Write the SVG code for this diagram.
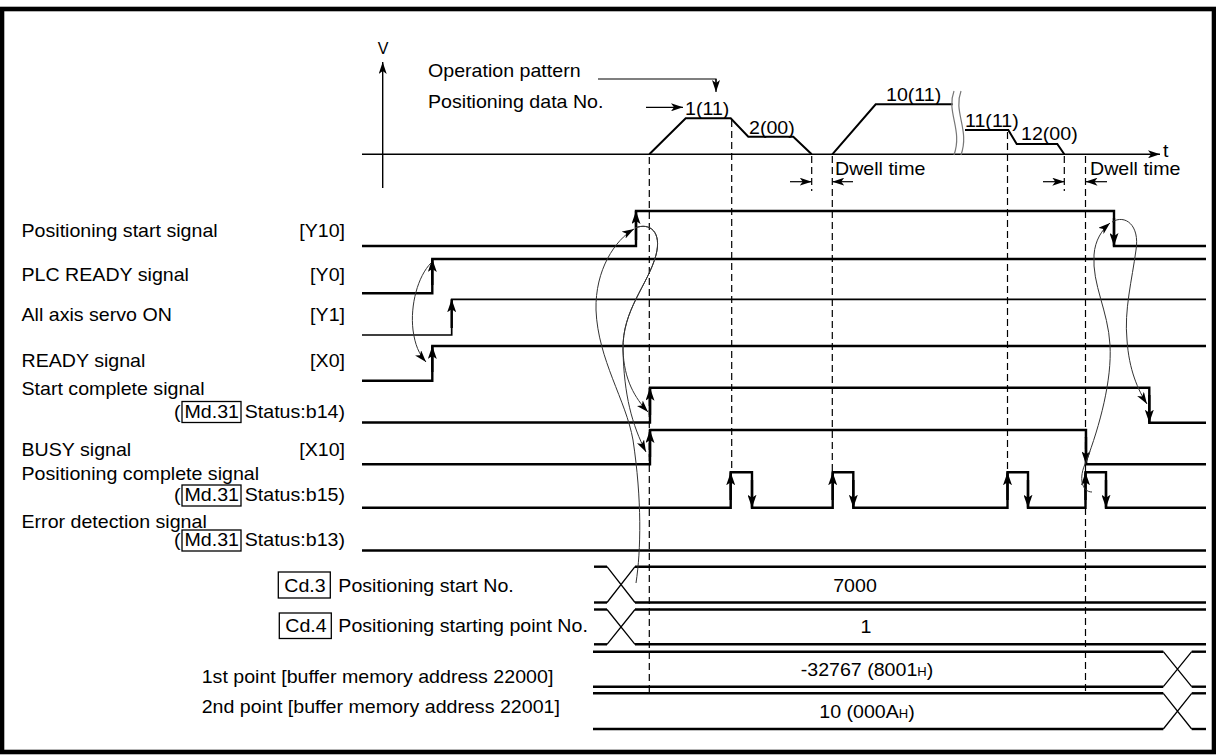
<svg xmlns="http://www.w3.org/2000/svg" width="1216" height="756" viewBox="0 0 1216 756">
<defs>
<style>
text{font-family:"Liberation Sans",Arial,Helvetica,sans-serif;font-size:18px;fill:#000}
.e{text-anchor:end}
.m{text-anchor:middle}
.sig{fill:none;stroke:#000;stroke-width:2.4;stroke-linejoin:miter}
.thin{stroke-width:1.7}
.edge{stroke:#000;stroke-width:2.4;marker-end:url(#ah)}
.dash{stroke:#000;stroke-width:1.2;stroke-dasharray:7 4;fill:none}
.cur{fill:none;stroke:#333;stroke-width:1;marker-end:url(#sa)}
.prof{fill:none;stroke:#000;stroke-width:2}
.ax{stroke:#000;stroke-width:1.4;fill:none}
.arr{stroke:#000;stroke-width:1.2;fill:none;marker-end:url(#sa)}
.axa{stroke:#000;stroke-width:1.4;fill:none;marker-end:url(#sa)}
.box{fill:none;stroke:#000;stroke-width:1.3}
.brk{fill:none;stroke:#777;stroke-width:1.2}
.bus{fill:none;stroke:#000;stroke-width:2.4}
.x{fill:none;stroke:#000;stroke-width:1.3}
</style>
<marker id="ah" markerUnits="userSpaceOnUse" markerWidth="13" markerHeight="9" viewBox="0 0 13 9" refX="13" refY="4.5" orient="auto"><path d="M0,0 L13,4.5 L0,9 L3,4.5 z" fill="#000"/></marker>
<marker id="sa" markerUnits="userSpaceOnUse" markerWidth="12" markerHeight="8" viewBox="0 0 12 8" refX="12" refY="4" orient="auto"><path d="M0,0 L12,4 L0,8 L3,4 z" fill="#000"/></marker>
</defs>
<rect x="0" y="0" width="1216" height="756" fill="#fff"/>
<rect id="frame" x="2" y="9" width="1212" height="743" fill="none" stroke="#000" stroke-width="4.6"/>

<g id="velocity-chart">
<line class="axa" x1="382.7" y1="188" x2="382.7" y2="62"/>
<line class="axa" x1="362" y1="154.3" x2="1160" y2="154.3"/>
<text class="m" transform="translate(383 54)" style="font-size:16px">V</text>
<text transform="translate(1163 156.5) scale(1.09 1)">t</text>
<text transform="translate(428 77) scale(1.09 1)">Operation pattern</text>
<text transform="translate(428 108) scale(1.09 1)">Positioning data No.</text>
<polyline class="ax" points="598,79 716,79 716,84" style="stroke-width:1.2"/>
<line class="arr" x1="716" y1="79" x2="716" y2="92"/>
<line class="arr" x1="646" y1="107.3" x2="683" y2="107.3"/>
<polyline class="prof" points="649.3,154.3 685.7,118.3 730.7,118.3 748.3,136.7 793.3,136.7 811.7,154.3"/>
<polyline class="prof" points="832.3,154.3 875.7,104.3 952.7,104.3"/>
<polyline class="prof" points="965,130 1008.3,130 1016.7,144 1057.3,144 1064.3,154.3"/>
<path class="brk" d="M954,91 C946,112 963,130 954,155"/>
<path class="brk" d="M961,91 C953,112 970,130 961,155"/>
<text transform="translate(685 115) scale(1.09 1)">1(11)</text>
<text transform="translate(749 133.5) scale(1.09 1)">2(00)</text>
<text transform="translate(886 101) scale(1.09 1)">10(11)</text>
<text transform="translate(965 126.5) scale(1.09 1)">11(11)</text>
<text transform="translate(1021 140) scale(1.09 1)">12(00)</text>
<line class="arr" x1="790" y1="181.7" x2="811.7" y2="181.7"/>
<line class="arr" x1="853" y1="181.7" x2="832.3" y2="181.7"/>
<text transform="translate(835 175) scale(1.09 1)">Dwell time</text>
<line class="arr" x1="1043" y1="181.7" x2="1064.3" y2="181.7"/>
<line class="arr" x1="1107" y1="181.7" x2="1085.5" y2="181.7"/>
<text transform="translate(1090 175) scale(1.09 1)">Dwell time</text>
</g>

<g id="guides">
<line class="dash" x1="649.3" y1="157" x2="649.3" y2="693.3"/>
<line class="dash" x1="731.7" y1="120" x2="731.7" y2="472.3"/>
<line class="dash" x1="811.7" y1="156" x2="811.7" y2="191"/>
<line class="dash" x1="832.3" y1="156" x2="832.3" y2="472.3"/>
<line class="dash" x1="1007.5" y1="132" x2="1007.5" y2="472.3"/>
<line class="dash" x1="1064.3" y1="156" x2="1064.3" y2="191"/>
<line class="dash" x1="1085.5" y1="156" x2="1085.5" y2="693.3"/>
</g>

<g id="sig-y10">
<text transform="translate(21.5 237) scale(1.09 1)">Positioning start signal</text>
<text class="e" transform="translate(345 237) scale(1.09 1)">[Y10]</text>
<polyline class="sig" points="362,246 636,246 636,211 1114,211 1114,246 1206,246"/>
<line class="edge" x1="636" y1="240" x2="636" y2="211"/>
<line class="edge" x1="1114" y1="218" x2="1114" y2="246"/>
</g>
<g id="sig-y0">
<text transform="translate(21.5 281) scale(1.09 1)">PLC READY signal</text>
<text class="e" transform="translate(345 281) scale(1.09 1)">[Y0]</text>
<polyline class="sig" points="362,293.3 432.3,293.3 432.3,259 1206,259"/>
<line class="edge" x1="432.3" y1="285" x2="432.3" y2="259"/>
</g>
<g id="sig-y1">
<text transform="translate(21.5 321) scale(1.09 1)">All axis servo ON</text>
<text class="e" transform="translate(345 321) scale(1.09 1)">[Y1]</text>
<polyline class="sig thin" points="362,335 451.7,335 451.7,299.3 1206,299.3"/>
<line class="edge" x1="451.7" y1="328" x2="451.7" y2="299.3"/>
</g>
<g id="sig-x0">
<text transform="translate(21.5 367) scale(1.09 1)">READY signal</text>
<text class="e" transform="translate(345 367) scale(1.09 1)">[X0]</text>
<polyline class="sig" points="362,380.7 432.3,380.7 432.3,346 1206,346"/>
<line class="edge" x1="432.3" y1="372" x2="432.3" y2="346"/>
</g>
<g id="sig-start-complete">
<text transform="translate(21.5 395) scale(1.09 1)">Start complete signal</text>
<text transform="translate(174 417.5) scale(1.09 1)">(</text>
<rect class="box" x="182" y="401.5" width="59" height="21"/>
<text transform="translate(184.5 417.5) scale(1.09 1)">Md.31</text>
<text class="e" transform="translate(345 417.5) scale(1.09 1)">Status:b14)</text>
<polyline class="sig" points="362,422.5 650,422.5 650,387.7 1149.3,387.7 1149.3,422.7 1206,422.7"/>
<line class="edge" x1="650" y1="415" x2="650" y2="387.7"/>
<line class="edge" x1="1149.3" y1="395" x2="1149.3" y2="422.7"/>
</g>
<g id="sig-busy">
<text transform="translate(21.5 456) scale(1.09 1)">BUSY signal</text>
<text class="e" transform="translate(345 456) scale(1.09 1)">[X10]</text>
<polyline class="sig" points="362,464.3 650,464.3 650,430 1086,430 1086,464.3 1206,464.3"/>
<line class="edge" x1="650" y1="457" x2="650" y2="430"/>
<line class="edge" x1="1086" y1="437" x2="1086" y2="464.3"/>
</g>
<g id="sig-pos-complete">
<text transform="translate(21.5 480) scale(1.09 1)">Positioning complete signal</text>
<text transform="translate(174 501) scale(1.09 1)">(</text>
<rect class="box" x="182" y="485" width="59" height="21"/>
<text transform="translate(184.5 501) scale(1.09 1)">Md.31</text>
<text class="e" transform="translate(345 501) scale(1.09 1)">Status:b15)</text>
<polyline class="sig" points="362,507.7 730.7,507.7 730.7,472.3 752,472.3 752,507.7 832.7,507.7 832.7,472.3 853.3,472.3 853.3,507.7 1007.5,507.7 1007.5,472.3 1028,472.3 1028,507.7 1085.5,507.7 1085.5,472.3 1106,472.3 1106,507.7 1206,507.7"/>
<line class="edge" x1="730.7" y1="500" x2="730.7" y2="472.3"/>
<line class="edge" x1="752" y1="480" x2="752" y2="507.7"/>
<line class="edge" x1="832.7" y1="500" x2="832.7" y2="472.3"/>
<line class="edge" x1="853.3" y1="480" x2="853.3" y2="507.7"/>
<line class="edge" x1="1007.5" y1="500" x2="1007.5" y2="472.3"/>
<line class="edge" x1="1028" y1="480" x2="1028" y2="507.7"/>
<line class="edge" x1="1085.5" y1="500" x2="1085.5" y2="472.3"/>
<line class="edge" x1="1106" y1="480" x2="1106" y2="507.7"/>
</g>
<g id="sig-error">
<text transform="translate(21.5 528) scale(1.09 1)">Error detection signal</text>
<text transform="translate(174 546) scale(1.09 1)">(</text>
<rect class="box" x="182" y="530" width="59" height="21"/>
<text transform="translate(184.5 546) scale(1.09 1)">Md.31</text>
<text class="e" transform="translate(345 546) scale(1.09 1)">Status:b13)</text>
<line class="sig" x1="362" y1="550.5" x2="1206" y2="550.5"/>
</g>

<g id="row-cd3">
<rect class="box" x="278.3" y="572" width="52" height="26"/>
<text transform="translate(284.3 592) scale(1.09 1)">Cd.3</text>
<text transform="translate(338.3 592) scale(1.09 1)">Positioning start No.</text>
<polyline class="bus" points="594,566.7 607,566.7"/>
<polyline class="bus" points="594,602.5 607,602.5"/>
<path class="x" d="M607,566.7 L635,602.5 M607,602.5 L635,566.7"/>
<line class="bus" x1="635" y1="566.7" x2="1206" y2="566.7"/>
<line class="bus" x1="635" y1="602.5" x2="1206" y2="602.5"/>
<text class="m" transform="translate(855 591.5) scale(1.09 1)">7000</text>
</g>
<g id="row-cd4">
<rect class="box" x="279.3" y="613" width="52" height="25.5"/>
<text transform="translate(285.3 632) scale(1.09 1)">Cd.4</text>
<text transform="translate(338.3 632) scale(1.09 1)">Positioning starting point No.</text>
<polyline class="bus" points="594,609.5 607,609.5"/>
<polyline class="bus" points="594,644.3 607,644.3"/>
<path class="x" d="M607,609.5 L635,644.3 M607,644.3 L635,609.5"/>
<line class="bus" x1="635" y1="609.5" x2="1206" y2="609.5"/>
<line class="bus" x1="635" y1="644.3" x2="1206" y2="644.3"/>
<text class="m" transform="translate(866 633) scale(1.09 1)">1</text>
</g>
<g id="row-1st">
<text transform="translate(201.7 683) scale(1.09 1)">1st point [buffer memory address 22000]</text>
<line class="bus" x1="593" y1="651.7" x2="1163.3" y2="651.7"/>
<line class="bus" x1="593" y1="686.7" x2="1163.3" y2="686.7"/>
<path class="x" d="M1163.3,651.7 L1191.7,686.7 M1163.3,686.7 L1191.7,651.7"/>
<line class="bus" x1="1191.7" y1="651.7" x2="1206" y2="651.7"/>
<line class="bus" x1="1191.7" y1="686.7" x2="1206" y2="686.7"/>
<text class="m" transform="translate(867 676) scale(1.09 1)">-32767 (8001<tspan style="font-size:12px">H</tspan>)</text>
</g>
<g id="row-2nd">
<text transform="translate(201.7 712.5) scale(1.09 1)">2nd point [buffer memory address 22001]</text>
<line class="bus" x1="593" y1="693.3" x2="1163.3" y2="693.3"/>
<line class="bus" x1="593" y1="729" x2="1163.3" y2="729"/>
<path class="x" d="M1163.3,693.3 L1191.7,729 M1163.3,729 L1191.7,693.3"/>
<line class="bus" x1="1191.7" y1="693.3" x2="1206" y2="693.3"/>
<line class="bus" x1="1191.7" y1="729" x2="1206" y2="729"/>
<text class="m" transform="translate(867 718) scale(1.09 1)">10 (000A<tspan style="font-size:12px">H</tspan>)</text>
</g>

<g id="connectors">
<path class="cur" d="M431,263 C418,276 410,305 413,330 C415,345 419,354 426,362"/>
<path class="cur" d="M636,583 C641,550 642,500 633,440 C626,400 598,360 596,310 C595,270 615,240 634,229"/>
<path class="cur" d="M635,228 C650,222 662,232 656,255 C648,285 622,310 623,350 C624,380 635,398 648,412"/>
<path class="cur" d="M635,228 C650,222 662,232 656,255 C648,285 622,310 623,350 C624,395 632,425 646,452"/>
<path class="cur" d="M1092,492 C1082,492 1078,478 1086,462 C1100,425 1112,380 1110,345 C1108,310 1092,285 1094,255 C1095,240 1102,230 1110,223"/>
<path class="cur" d="M1112,222 C1125,214 1140,225 1136,250 C1132,280 1124,310 1127,340 C1129,370 1138,390 1147,404"/>
</g>
</svg>
